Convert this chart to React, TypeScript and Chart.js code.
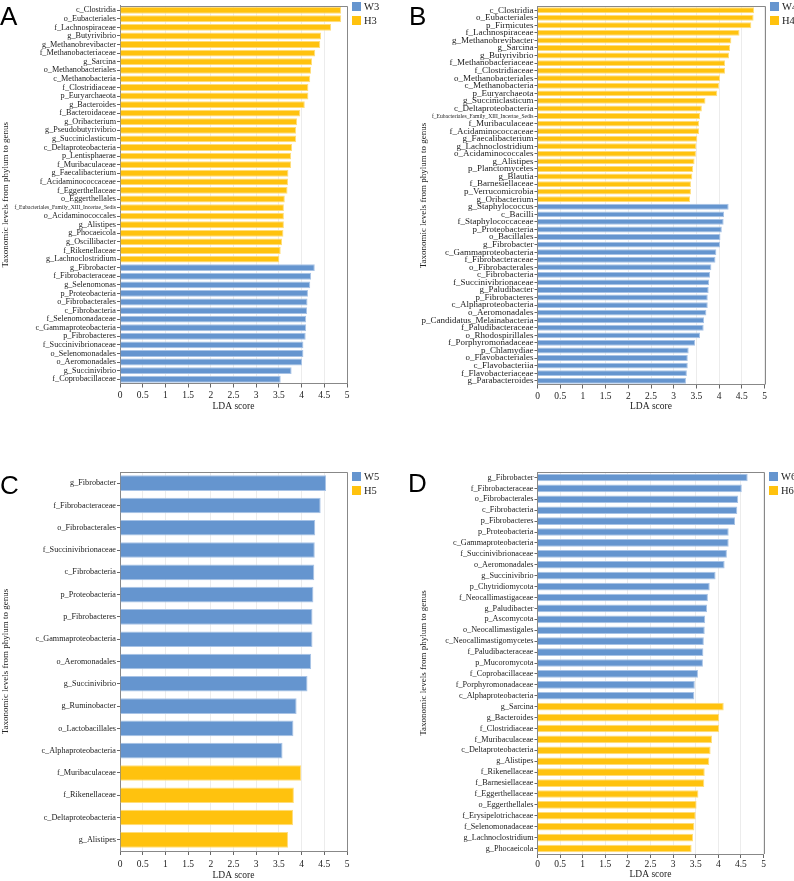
import React, { useEffect, useRef } from "react";
import { Chart, registerables } from "chart.js";

Chart.register(...registerables);

// ---- Panel A: W3 vs H3 ----
const a_H3_taxa = [
  "c_Clostridia", "o_Eubacteriales", "f_Lachnospiraceae", "g_Butyrivibrio", "g_Methanobrevibacter",
  "f_Methanobacteriaceae", "g_Sarcina", "o_Methanobacteriales", "c_Methanobacteria", "f_Clostridiaceae",
  "p_Euryarchaeota", "g_Bacteroides", "f_Bacteroidaceae", "g_Oribacterium", "g_Pseudobutyrivibrio",
  "g_Succiniclasticum", "c_Deltaproteobacteria", "p_Lentisphaerae", "f_Muribaculaceae", "g_Faecalibacterium",
  "f_Acidaminococcaceae", "f_Eggerthellaceae", "o_Eggerthellales", "f_Eubacteriales_Family_XIII_Incertae_Sedis",
  "o_Acidaminococcales", "g_Alistipes", "g_Phocaeicola", "g_Oscillibacter", "f_Rikenellaceae", "g_Lachnoclostridium",
];
const a_H3_lda = [
  4.87, 4.87, 4.65, 4.43, 4.41, 4.3, 4.23, 4.21, 4.19, 4.15,
  4.15, 4.07, 3.97, 3.9, 3.88, 3.88, 3.79, 3.77, 3.77, 3.71,
  3.7, 3.69, 3.63, 3.61, 3.61, 3.61, 3.6, 3.57, 3.54, 3.51,
];
const a_W3_taxa = [
  "g_Fibrobacter", "f_Fibrobacteraceae", "g_Selenomonas", "p_Proteobacteria", "o_Fibrobacterales",
  "c_Fibrobacteria", "f_Selenomonadaceae", "c_Gammaproteobacteria", "p_Fibrobacteres", "f_Succinivibrionaceae",
  "o_Selenomonadales", "o_Aeromonadales", "g_Succinivibrio", "f_Coprobacillaceae",
];
const a_W3_lda = [4.29, 4.21, 4.19, 4.14, 4.13, 4.12, 4.1, 4.1, 4.09, 4.04, 4.04, 4.01, 3.78, 3.54];

// ---- Panel B: W4 vs H4 ----
const b_H4_taxa = [
  "c_Clostridia", "o_Eubacteriales", "p_Firmicutes", "f_Lachnospiraceae", "g_Methanobrevibacter",
  "g_Sarcina", "g_Butyrivibrio", "f_Methanobacteriaceae", "f_Clostridiaceae", "o_Methanobacteriales",
  "c_Methanobacteria", "p_Euryarchaeota", "g_Succiniclasticum", "c_Deltaproteobacteria",
  "f_Eubacteriales_Family_XIII_Incertae_Sedis", "f_Muribaculaceae", "f_Acidaminococcaceae",
  "g_Faecalibacterium", "g_Lachnoclostridium", "o_Acidaminococcales", "g_Alistipes", "p_Planctomycetes",
  "g_Blautia", "f_Barnesiellaceae", "p_Verrucomicrobia", "g_Oribacterium",
];
const b_H4_lda = [
  4.77, 4.76, 4.71, 4.45, 4.27, 4.24, 4.22, 4.13, 4.13, 4.02,
  4.0, 3.96, 3.7, 3.62, 3.58, 3.56, 3.56, 3.52, 3.5, 3.49,
  3.46, 3.43, 3.41, 3.38, 3.38, 3.36,
];
const b_W4_taxa = [
  "g_Staphylococcus", "c_Bacilli", "f_Staphylococcaceae", "p_Proteobacteria", "o_Bacillales",
  "g_Fibrobacter", "c_Gammaproteobacteria", "f_Fibrobacteraceae", "o_Fibrobacterales", "c_Fibrobacteria",
  "f_Succinivibrionaceae", "g_Paludibacter", "p_Fibrobacteres", "c_Alphaproteobacteria", "o_Aeromonadales",
  "p_Candidatus_Melainabacteria", "f_Paludibacteraceae", "o_Rhodospirillales", "f_Porphyromonadaceae",
  "p_Chlamydiae", "o_Flavobacteriales", "c_Flavobacteriia", "f_Flavobacteriaceae", "g_Parabacteroides",
];
const b_W4_lda = [
  4.21, 4.11, 4.1, 4.06, 4.03, 4.02, 3.94, 3.92, 3.83, 3.8,
  3.78, 3.77, 3.75, 3.75, 3.72, 3.67, 3.66, 3.58, 3.47, 3.33,
  3.31, 3.31, 3.29, 3.27,
];

// ---- Panel C: W5 vs H5 ----
const c_W5_taxa = [
  "g_Fibrobacter", "f_Fibrobacteraceae", "o_Fibrobacterales", "f_Succinivibrionaceae", "c_Fibrobacteria",
  "p_Proteobacteria", "p_Fibrobacteres", "c_Gammaproteobacteria", "o_Aeromonadales", "g_Succinivibrio",
  "g_Ruminobacter", "o_Lactobacillales", "c_Alphaproteobacteria",
];
const c_W5_lda = [4.54, 4.42, 4.3, 4.29, 4.28, 4.26, 4.24, 4.24, 4.21, 4.13, 3.89, 3.82, 3.58];
const c_H5_taxa = ["f_Muribaculaceae", "f_Rikenellaceae", "c_Deltaproteobacteria", "g_Alistipes"];
const c_H5_lda = [3.99, 3.83, 3.81, 3.7];

// ---- Panel D: W6 vs H6 ----
const d_W6_taxa = [
  "g_Fibrobacter", "f_Fibrobacteraceae", "o_Fibrobacterales", "c_Fibrobacteria", "p_Fibrobacteres",
  "p_Proteobacteria", "c_Gammaproteobacteria", "f_Succinivibrionaceae", "o_Aeromonadales", "g_Succinivibrio",
  "p_Chytridiomycota", "f_Neocallimastigaceae", "g_Paludibacter", "p_Ascomycota", "o_Neocallimastigales",
  "c_Neocallimastigomycetes", "f_Paludibacteraceae", "p_Mucoromycota", "f_Coprobacillaceae",
  "f_Porphyromonadaceae", "c_Alphaproteobacteria",
];
const d_W6_lda = [
  4.65, 4.52, 4.44, 4.42, 4.37, 4.23, 4.23, 4.19, 4.14, 3.94,
  3.81, 3.77, 3.75, 3.71, 3.7, 3.68, 3.67, 3.66, 3.55, 3.48, 3.47,
];
const d_H6_taxa = [
  "g_Sarcina", "g_Bacteroides", "f_Clostridiaceae", "f_Muribaculaceae", "c_Deltaproteobacteria",
  "g_Alistipes", "f_Rikenellaceae", "f_Barnesiellaceae", "f_Eggerthellaceae", "o_Eggerthellales",
  "f_Erysipelotrichaceae", "f_Selenomonadaceae", "g_Lachnoclostridium", "g_Phocaeicola",
];
const d_H6_lda = [4.12, 4.02, 4.02, 3.86, 3.83, 3.8, 3.7, 3.69, 3.56, 3.52, 3.5, 3.47, 3.44, 3.41];

const xTickValues = [0, 0.5, 1, 1.5, 2, 2.5, 3, 3.5, 4, 4.5, 5];

const SERIF = "'Liberation Serif', 'Times New Roman', serif";
const SANS = "'Liberation Sans', Arial, sans-serif";
const TEXT = "#222222";
const W_FILL = "#6595cf";
const W_EDGE = "#a8c3e6";
const H_FILL = "#ffc20e";
const H_EDGE = "#ffdd7a";

type Segment = { group: string; taxa: string[]; lda: number[]; fill: string; edge: string };

type PanelProps = {
  left: number;
  top: number;
  width: number;
  height: number;
  plotLeft: number;
  plotRight: number;
  plotTop: number;
  plotBottom: number;
  segments: Segment[];
  tickSize: number;
  barPct: number;
  xTickGap: number;
  yTitlePad: number;
};

const framePlugin = {
  id: "frame",
  afterDatasetsDraw(chart: any) {
    const { ctx, chartArea } = chart;
    ctx.save();
    ctx.strokeStyle = "#888888";
    ctx.lineWidth = 1;
    ctx.beginPath();
    ctx.moveTo(chartArea.left, Math.round(chartArea.top) + 0.5);
    ctx.lineTo(Math.round(chartArea.right) + 0.5, Math.round(chartArea.top) + 0.5);
    ctx.lineTo(Math.round(chartArea.right) + 0.5, chartArea.bottom);
    ctx.stroke();
    ctx.restore();
  },
};

function LdaPanel(p: PanelProps) {
  const ref = useRef<HTMLCanvasElement>(null);

  useEffect(() => {
    if (!ref.current) return;
    const labels: string[] = [];
    p.segments.forEach((s) => labels.push(...s.taxa));
    const total = labels.length;
    let offset = 0;
    const datasets = p.segments.map((s) => {
      const data: (number | null)[] = new Array(total).fill(null);
      s.lda.forEach((v, i) => (data[offset + i] = v));
      offset += s.lda.length;
      return {
        label: s.group,
        data,
        backgroundColor: s.fill,
        borderColor: s.edge,
        borderWidth: 1,
        barPercentage: p.barPct,
        categoryPercentage: 1,
        grouped: false,
      };
    });

    const chart = new Chart(ref.current, {
      type: "bar",
      data: { labels, datasets },
      options: {
        indexAxis: "y",
        animation: false,
        responsive: false,
        maintainAspectRatio: false,
        layout: {
          padding: { left: 0, top: p.plotTop, right: p.width - p.plotRight, bottom: 0 },
        },
        plugins: {
          legend: { display: false },
          tooltip: { enabled: false },
        },
        scales: {
          x: {
            type: "linear",
            min: 0,
            max: 5,
            afterBuildTicks: (scale: any) => {
              scale.ticks = xTickValues.map((v) => ({ value: v }));
            },
            ticks: {
              autoSkip: false,
              maxRotation: 0,
              color: TEXT,
              font: { family: SERIF, size: 9.5 },
              padding: p.xTickGap,
              callback: (v: any) => String(v),
            },
            grid: { color: "#ececec", tickColor: "#666666", tickLength: 4 },
            border: { color: "#888888" },
            title: {
              display: true,
              text: "LDA score",
              color: TEXT,
              font: { family: SERIF, size: 9.5 },
              padding: 0,
            },
            afterFit: (scale: any) => {
              scale.height = p.height - p.plotBottom;
            },
          },
          y: {
            type: "category",
            ticks: {
              autoSkip: false,
              color: TEXT,
              padding: 1,
              font: (ctx: any) => {
                const lbl = ctx && ctx.tick ? String(ctx.tick.label) : "";
                return { family: SERIF, size: lbl.length > 30 ? 5.6 : p.tickSize };
              },
            },
            grid: { drawOnChartArea: false, offset: false, tickLength: 3, tickColor: "#666666" },
            border: { color: "#888888" },
            title: {
              display: true,
              text: "Taxonomic levels from phylum to genus",
              color: TEXT,
              font: { family: SERIF, size: 9 },
              padding: { top: p.yTitlePad, bottom: 0 },
            },
            afterFit: (scale: any) => {
              scale.width = p.plotLeft;
            },
          },
        },
      },
      plugins: [framePlugin],
    } as any);

    return () => chart.destroy();
  }, []);

  return (
    <div style={{ position: "absolute", left: p.left, top: p.top, width: p.width, height: p.height }}>
      <canvas ref={ref} width={p.width} height={p.height} style={{ width: p.width, height: p.height }} />
    </div>
  );
}

function Legend(props: { left: number; top: number; items: { name: string; color: string }[] }) {
  return (
    <div style={{ position: "absolute", left: props.left, top: props.top }}>
      {props.items.map((it, i) => (
        <div key={it.name} style={{ position: "absolute", left: 0, top: i * 14, whiteSpace: "nowrap" }}>
          <div style={{ position: "absolute", left: 0, top: 0, width: 9, height: 9, background: it.color }} />
          <div
            style={{
              position: "absolute",
              left: 12,
              top: -1,
              fontFamily: SERIF,
              fontSize: 10.5,
              lineHeight: "11px",
              color: TEXT,
            }}
          >
            {it.name}
          </div>
        </div>
      ))}
    </div>
  );
}

function PanelLetter(props: { left: number; top: number; text: string }) {
  return (
    <div
      style={{
        position: "absolute",
        left: props.left,
        top: props.top,
        fontFamily: SANS,
        fontSize: 26,
        lineHeight: "26px",
        color: "#000",
      }}
    >
      {props.text}
    </div>
  );
}

export default function App() {
  return (
    <div style={{ position: "absolute", left: 0, top: 0, width: 794, height: 881, background: "#fff", overflow: "hidden" }}>
      <LdaPanel
        left={0}
        top={0}
        width={400}
        height={412}
        plotLeft={120}
        plotRight={347}
        plotTop={1.5}
        plotBottom={383.5}
        segments={[
          { group: "H3", taxa: a_H3_taxa, lda: a_H3_lda, fill: H_FILL, edge: H_EDGE },
          { group: "W3", taxa: a_W3_taxa, lda: a_W3_lda, fill: W_FILL, edge: W_EDGE },
        ]}
        tickSize={8.2}
        barPct={0.8}
        xTickGap={2}
        yTitlePad={0}
      />
      <LdaPanel
        left={400}
        top={0}
        width={394}
        height={412}
        plotLeft={137.5}
        plotRight={364.5}
        plotTop={1.8}
        plotBottom={384.5}
        segments={[
          { group: "H4", taxa: b_H4_taxa, lda: b_H4_lda, fill: H_FILL, edge: H_EDGE },
          { group: "W4", taxa: b_W4_taxa, lda: b_W4_lda, fill: W_FILL, edge: W_EDGE },
        ]}
        tickSize={9}
        barPct={0.78}
        xTickGap={2}
        yTitlePad={18}
      />
      <LdaPanel
        left={0}
        top={440}
        width={400}
        height={441}
        plotLeft={120}
        plotRight={347}
        plotTop={32}
        plotBottom={411}
        segments={[
          { group: "W5", taxa: c_W5_taxa, lda: c_W5_lda, fill: W_FILL, edge: W_EDGE },
          { group: "H5", taxa: c_H5_taxa, lda: c_H5_lda, fill: H_FILL, edge: H_EDGE },
        ]}
        tickSize={8.2}
        barPct={0.7}
        xTickGap={4}
        yTitlePad={0}
      />
      <LdaPanel
        left={400}
        top={440}
        width={394}
        height={440}
        plotLeft={137.5}
        plotRight={363.5}
        plotTop={32}
        plotBottom={414}
        segments={[
          { group: "W6", taxa: d_W6_taxa, lda: d_W6_lda, fill: W_FILL, edge: W_EDGE },
          { group: "H6", taxa: d_H6_taxa, lda: d_H6_lda, fill: H_FILL, edge: H_EDGE },
        ]}
        tickSize={8.2}
        barPct={0.7}
        xTickGap={1}
        yTitlePad={18}
      />

      <Legend left={352} top={2} items={[{ name: "W3", color: W_FILL }, { name: "H3", color: H_FILL }]} />
      <Legend left={770} top={2} items={[{ name: "W4", color: W_FILL }, { name: "H4", color: H_FILL }]} />
      <Legend left={352} top={472} items={[{ name: "W5", color: W_FILL }, { name: "H5", color: H_FILL }]} />
      <Legend left={769} top={472} items={[{ name: "W6", color: W_FILL }, { name: "H6", color: H_FILL }]} />

      <PanelLetter left={0} top={3} text="A" />
      <PanelLetter left={409} top={3} text="B" />
      <PanelLetter left={0} top={472} text="C" />
      <PanelLetter left={408} top={470} text="D" />
    </div>
  );
}
